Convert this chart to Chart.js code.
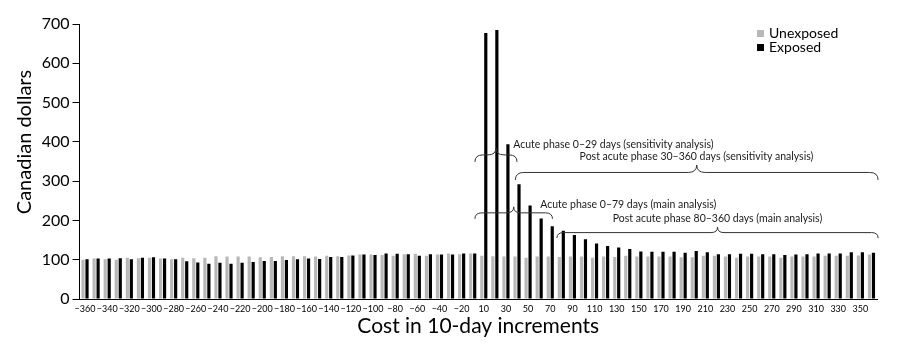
<!DOCTYPE html>
<html>
<head>
<meta charset="utf-8">
<script src="https://cdn.jsdelivr.net/npm/chart.js@4.4.1/dist/chart.umd.min.js"></script>
<style>
  html, body { margin: 0; padding: 0; background: #fff; }
  #wrap { width: 900px; height: 354px; }
</style>
</head>
<body>
<div id="wrap"><canvas id="c" width="900" height="354"></canvas></div>
<script>
// ---------- DATA ----------
const categories = [
  '−360','−350','−340','−330','−320','−310','−300','−290','−280','−270',
  '−260','−250','−240','−230','−220','−210','−200','−190','−180','−170',
  '−160','−150','−140','−130','−120','−110','−100','−90','−80','−70',
  '−60','−50','−40','−30','−20','−10',
  '10','20','30','40','50','60','70','80','90','100',
  '110','120','130','140','150','160','170','180','190','200',
  '210','220','230','240','250','260','270','280','290','300',
  '310','320','330','340','350','360'
];
const unexposed = [
  100,103,101,100,105,104,105,103,101,105,
  104,105,109,108,108,108,106,107,109,109,
  109,108,110,109,111,113,113,112,110,114,
  115,110,113,116,114,116,
  110,109,108,108,105,108,108,107,108,108,
  105,108,107,110,108,108,108,108,106,106,
  110,110,108,105,108,108,108,105,108,108,
  108,110,110,110,111,113
];
const exposed = [
  101,103,103,104,101,105,106,103,101,96,
  93,90,92,90,92,94,97,97,99,101,
  103,102,107,107,111,113,112,116,115,114,
  110,114,113,113,116,116,
  677,685,394,292,238,205,185,174,163,152,
  141,135,131,127,121,120,120,120,118,122,
  119,114,114,115,115,114,114,112,113,114,
  116,116,116,119,119,118
];
const yTicks = [0,100,200,300,400,500,600,700];
const seriesNames = ['Unexposed','Exposed'];
const yTitle = 'Canadian dollars';
const xTitle = 'Cost in 10-day increments';

// Phase annotations (category-index positions, value positions)
const braces = [
  {from: 35.2,  to: 39.0,  yEnd: 349, h: 14},
  {from: 38.85, to: 71.6,  yEnd: 303, h: 15},
  {from: 35.2,  to: 42.2,  yEnd: 204, h: 12},
  {from: 42.6,  to: 71.6,  yEnd: 155, h: 11}
];
const phaseLabels = [
  {text: 'Acute phase 0–29 days (sensitivity analysis)',       x: 38.66, y: 392, align: 'left'},
  {text: 'Post acute phase 30–360 days (sensitivity analysis)', x: 55.2,  y: 362, align: 'center'},
  {text: 'Acute phase 0–79 days (main analysis)',              x: 41.1,  y: 240, align: 'left'},
  {text: 'Post acute phase 80–360 days (main analysis)',       x: 57.1,  y: 204, align: 'center'}
];

// ---------- STYLE ----------
const GREY = '#b8b8b8';
const BLACK = '#000000';
Chart.defaults.font.family = 'Lato, "Open Sans", sans-serif';
Chart.defaults.color = '#000';

function drawBrace(ctx, x1, x2, yEnd, h) {
  const yTip = yEnd - h;
  const yMid = yEnd - h / 2;
  const mid = (x1 + x2) / 2;
  const r = Math.min(h / 2 + 1, (x2 - x1) / 4);
  ctx.beginPath();
  ctx.moveTo(x1, yEnd);
  ctx.quadraticCurveTo(x1, yMid, x1 + r, yMid);
  ctx.lineTo(mid - r, yMid);
  ctx.quadraticCurveTo(mid, yMid, mid, yTip);
  ctx.quadraticCurveTo(mid, yMid, mid + r, yMid);
  ctx.lineTo(x2 - r, yMid);
  ctx.quadraticCurveTo(x2, yMid, x2, yEnd);
  ctx.stroke();
}

const overlay = {
  id: 'overlay',
  afterDatasetsDraw(chart) {
    const {ctx, scales: {x, y}} = chart;
    ctx.save();
    // braces
    ctx.strokeStyle = '#333';
    ctx.lineWidth = 1;
    braces.forEach(b => {
      drawBrace(ctx, x.getPixelForValue(b.from), x.getPixelForValue(b.to), y.getPixelForValue(b.yEnd), b.h);
    });
    // phase labels
    ctx.fillStyle = '#1a1a1a';
    ctx.font = '10.5px Lato, "Open Sans", sans-serif';
    ctx.textBaseline = 'middle';
    phaseLabels.forEach(t => {
      ctx.textAlign = t.align;
      ctx.fillText(t.text, x.getPixelForValue(t.x), y.getPixelForValue(t.y));
    });
    // legend
    const colors = [GREY, BLACK];
    ctx.font = '14px Lato, "Open Sans", sans-serif';
    ctx.textAlign = 'left';
    seriesNames.forEach((n, i) => {
      const cy = 33.5 + i * 14;
      ctx.fillStyle = colors[i];
      ctx.fillRect(757, cy - 3.5, 7, 7);
      ctx.fillStyle = '#000';
      ctx.fillText(n, 769, cy);
    });
    // y title
    ctx.save();
    ctx.translate(25, 142);
    ctx.rotate(-Math.PI / 2);
    ctx.textAlign = 'center';
    ctx.font = '20px Lato, "Open Sans", sans-serif';
    ctx.fillStyle = '#000';
    ctx.fillText(yTitle, 0, 0);
    ctx.restore();
    ctx.restore();
  }
};

new Chart(document.getElementById('c'), {
  type: 'bar',
  data: {
    labels: categories,
    datasets: [
      {label: seriesNames[0], data: unexposed, backgroundColor: GREY, borderWidth: 0,
       categoryPercentage: 0.72, barPercentage: 0.8},
      {label: seriesNames[1], data: exposed, backgroundColor: BLACK, borderWidth: 0,
       categoryPercentage: 0.72, barPercentage: 0.8}
    ]
  },
  options: {
    responsive: false,
    animation: false,
    devicePixelRatio: 1,
    layout: {padding: {top: 24, right: 23, left: 0, bottom: 0}},
    plugins: {legend: {display: false}, tooltip: {enabled: false}},
    scales: {
      x: {
        grid: {display: false, drawTicks: false},
        border: {display: true, color: '#000', width: 1},
        ticks: {
          autoSkip: false, maxRotation: 0, minRotation: 0, padding: 5,
          font: {size: 9}, color: '#000',
          callback: (v, i) => (i % 2 === 0 ? categories[i] : '')
        },
        title: {display: true, text: xTitle, font: {size: 21}, color: '#000', padding: {top: 0, bottom: 15}},
        afterFit: s => { s.height = 55; }
      },
      y: {
        min: 0, max: 700,
        afterBuildTicks: s => { s.ticks = yTicks.map(v => ({value: v})); },
        grid: {drawOnChartArea: false, drawTicks: true, tickLength: 7, color: '#000'},
        border: {display: true, color: '#000', width: 1},
        ticks: {font: {size: 16}, color: '#000', padding: 3},
        afterFit: s => { s.width = 79.5; }
      }
    }
  },
  plugins: [overlay]
});
</script>
</body>
</html>
